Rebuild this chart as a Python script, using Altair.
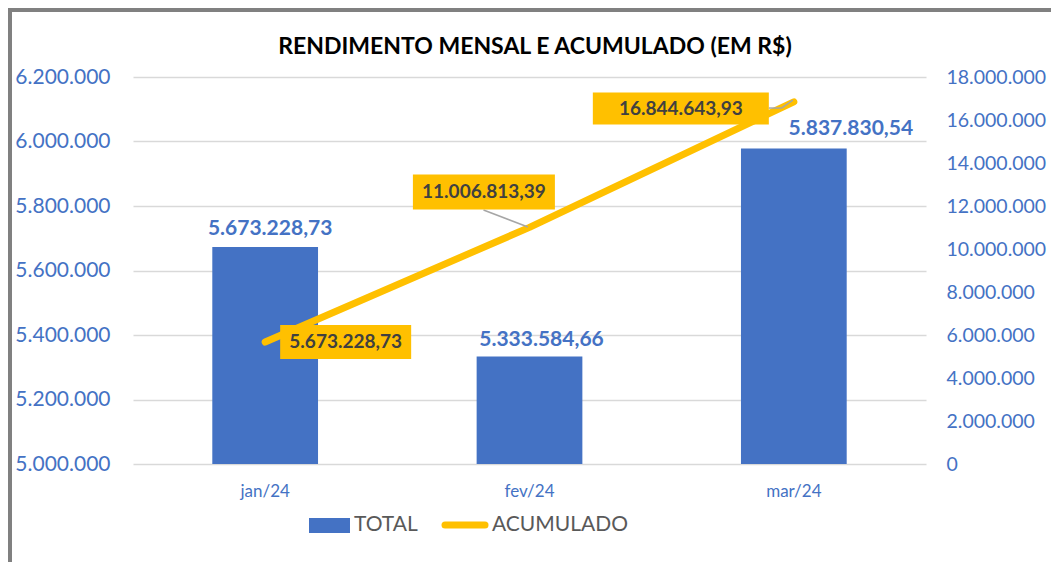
import altair as alt
import pandas as pd

# ---------------- data ----------------
months = ["jan/24", "fev/24", "mar/24"]
total = [5673228.73, 5333584.66, 5978000.00]          # bar heights as drawn
total_labels = ["5.673.228,73", "5.333.584,66", "5.837.830,54"]
acumulado = [5673228.73, 11006813.39, 16844643.93]
acum_labels = ["5.673.228,73", "11.006.813,39", "16.844.643,93"]
left_ticks = [5000000, 5200000, 5400000, 5600000, 5800000, 6000000, 6200000]
right_ticks = [0, 2000000, 4000000, 6000000, 8000000, 10000000,
               12000000, 14000000, 16000000, 18000000]
title_text = "RENDIMENTO MENSAL E ACUMULADO (EM R$)"
legend_names = ["TOTAL", "ACUMULADO"]

df = pd.DataFrame({"month": months, "total": total, "total_label": total_labels,
                   "acum": acumulado, "acum_label": acum_labels})
deco = pd.DataFrame({"k": [0]})

# ---------------- styles ----------------
BLUE = "#4472C4"
GOLD = "#FFC000"
FONT = "Lato"
W, H = 793, 387
LBL = "replace(format(datum.value, ','), regexp(',', 'g'), '.')"

x_enc = alt.X("month:N", sort=months,
              scale=alt.Scale(paddingInner=0.6, paddingOuter=0.3),
              axis=alt.Axis(title=None, labelAngle=0, labelColor=BLUE, labelFont=FONT,
                            labelFontSize=17, ticks=False, domain=False,
                            labelPadding=19, grid=False))

y_left = alt.Y("total:Q", scale=alt.Scale(domain=[5000000, 6200000], nice=False, zero=False),
               axis=alt.Axis(orient="left", values=left_ticks, title=None, labelExpr=LBL,
                             labelColor=BLUE, labelFont=FONT, labelFontSize=21,
                             labelPadding=23, ticks=False, domain=False, grid=True,
                             gridColor="#D9D9D9", gridWidth=1.5))

y_right = alt.Y("acum:Q", scale=alt.Scale(domain=[0, 18000000], nice=False),
                axis=alt.Axis(orient="right", values=right_ticks, title=None, labelExpr=LBL,
                              labelColor=BLUE, labelFont=FONT, labelFontSize=19.5,
                              labelPadding=20, ticks=False, domain=False, grid=False))

base = alt.Chart(df)

# ---------------- bars group ----------------
bars = base.mark_bar(color=BLUE).encode(x=x_enc, y=y_left, y2=alt.Y2Datum(5000000))

bar_label_nudge = {"jan/24": (5, -17.5), "fev/24": (12, -16), "mar/24": (57, -19.5)}
bar_labels = []
for m in months:
    dx, dy = bar_label_nudge[m]
    bar_labels.append(
        base.transform_filter(alt.datum.month == m)
        .mark_text(font=FONT, fontSize=21, fontWeight="bold", color=BLUE,
                   align="center", baseline="middle", dx=dx, dy=dy)
        .encode(x=x_enc, y=y_left, text="total_label:N"))

dchart = alt.Chart(deco)
title = dchart.mark_text(text=title_text, font=FONT, fontSize=23, fontWeight="bold",
                         color="#000000", align="center", baseline="middle").encode(
    x=alt.value(402), y=alt.value(-30))
frame_left = dchart.mark_rect(color="#808080").encode(
    x=alt.value(-125), x2=alt.value(-121), y=alt.value(-69), y2=alt.value(490))
frame_top = dchart.mark_rect(color="#808080").encode(
    x=alt.value(-125), x2=alt.value(920), y=alt.value(-69), y2=alt.value(-65))

leg_rect = dchart.mark_rect(color=BLUE).encode(
    x=alt.value(176), x2=alt.value(217), y=alt.value(441), y2=alt.value(456))
leg_line = dchart.mark_rule(color=GOLD, strokeWidth=7, strokeCap="round").encode(
    x=alt.value(312), x2=alt.value(352), y=alt.value(448), y2=alt.value(448))
leg_t1 = dchart.mark_text(text=legend_names[0], font=FONT, fontSize=21, color="#595959",
                          align="left", baseline="middle").encode(
    x=alt.value(221), y=alt.value(448))
leg_t2 = dchart.mark_text(text=legend_names[1], font=FONT, fontSize=21, color="#595959",
                          align="left", baseline="middle").encode(
    x=alt.value(359), y=alt.value(448))

bar_group = alt.layer(frame_left, frame_top, bars, *bar_labels, title,
                      leg_rect, leg_line, leg_t1, leg_t2)

# ---------------- line group ----------------
line = base.mark_line(color=GOLD, strokeWidth=7, strokeCap="round",
                      strokeJoin="round").encode(x=x_enc, y=y_right)

leaders = [("fev/24", -46, -17.4, -1.6, -0.4),
           ("mar/24", -25, 6.2, -12.3, 6.2),
           ("mar/24", -12.3, 6.2, -1, -1.8)]
leader_layers = []
for m, x1, y1, x2, y2 in leaders:
    leader_layers.append(
        base.transform_filter(alt.datum.month == m)
        .mark_rule(color="#A6A6A6", strokeWidth=1.5, xOffset=x1, yOffset=y1,
                   x2Offset=x2, y2Offset=y2)
        .encode(x=x_enc, x2=alt.X2("month:N"), y=y_right, y2=alt.Y2("acum:Q")))

box_specs = {"jan/24": (131, 34, 80.5, 0),
             "fev/24": (142, 35, -45.6, -35.4),
             "mar/24": (176, 32, -113, 6.7)}
box_layers = []
text_layers = []
for m in months:
    w, h, ox, oy = box_specs[m]
    r = h / w
    path = f"M-1,{-r:.4f}L1,{-r:.4f}L1,{r:.4f}L-1,{r:.4f}Z"
    box_layers.append(
        base.transform_filter(alt.datum.month == m)
        .mark_point(shape=path, size=w * w, filled=True, fill=GOLD, opacity=1,
                    strokeWidth=0, xOffset=ox, yOffset=oy)
        .encode(x=x_enc, y=y_right))
    text_layers.append(
        base.transform_filter(alt.datum.month == m)
        .mark_text(font=FONT, fontSize=19, fontWeight="bold", color="#404040",
                   align="center", baseline="middle", dx=ox, dy=oy)
        .encode(x=x_enc, y=y_right, text="acum_label:N"))

line_group = alt.layer(line, *leader_layers, *box_layers, *text_layers)

chart = (alt.layer(bar_group, line_group)
         .resolve_scale(y="independent")
         .properties(width=W, height=H,
                     padding={"left": 125, "top": 69, "right": 125, "bottom": 98},
                     autosize=alt.AutoSizeParams(type="none"),
                     background="white")
         .configure_view(stroke=None))

chart.save("out.html", embed_options={"renderer": "svg", "actions": False})
